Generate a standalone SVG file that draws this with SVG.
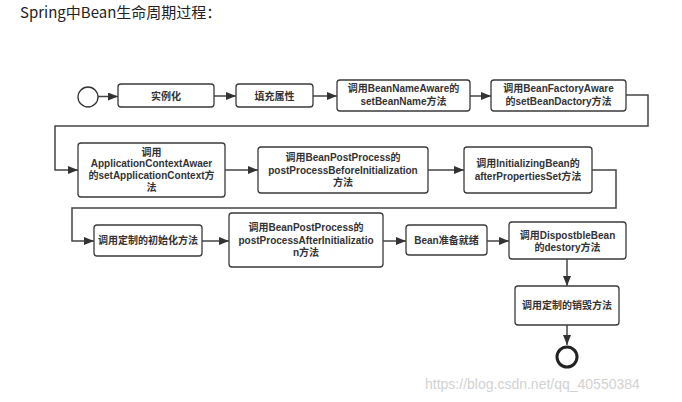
<svg xmlns="http://www.w3.org/2000/svg" width="682" height="402" viewBox="0 0 682 402">
<style>
.box{fill:#fff;stroke:#3a3a3a;stroke-width:1.3}
.t{font-family:"Liberation Sans","Noto Sans CJK SC",sans-serif;font-size:10px;font-weight:bold;fill:#333;text-anchor:middle}
.c{fill:none;stroke:#444;stroke-width:1.5}
.title{font-family:"Noto Sans CJK SC","Microsoft YaHei",sans-serif;font-size:15px;fill:#222}
.wm{font-family:"Liberation Sans",Arial,sans-serif;font-size:14px;fill:#d2d2d2}
</style>
<defs>
<marker id="ar" markerUnits="userSpaceOnUse" markerWidth="10" markerHeight="8" refX="10" refY="4" orient="auto">
<path d="M0,0 L10,4 L0,8 z" fill="#333"/>
</marker>
</defs>
<rect width="682" height="402" fill="#fff"/>
<text class="title" x="20" y="18">Spring中Bean生命周期过程：</text>

<g id="start"><circle cx="88" cy="97" r="10" fill="#fff" stroke="#333" stroke-width="1.3"/></g>

<g id="n1"><rect class="box" x="118" y="84" width="96" height="23" rx="3"/><text class="t" x="166" y="99.5">实例化</text></g>
<g id="n2"><rect class="box" x="236" y="84" width="77" height="23" rx="3"/><text class="t" x="274.5" y="99.5">填充属性</text></g>
<g id="n3"><rect class="box" x="337" y="80" width="133" height="31" rx="3"/><text class="t" x="403.5" y="92">调用BeanNameAware的</text><text class="t" x="403.5" y="105">setBeanName方法</text></g>
<g id="n4"><rect class="box" x="491" y="80" width="135" height="31" rx="3"/><text class="t" x="558.5" y="92">调用BeanFactoryAware</text><text class="t" x="558.5" y="105">的setBeanDactory方法</text></g>

<g id="n5"><rect class="box" x="78" y="143" width="147" height="54" rx="3"/><text class="t" x="151.5" y="155.5">调用</text><text class="t" x="151.5" y="167">ApplicationContextAwaer</text><text class="t" x="151.5" y="178.5">的setApplicationContext方</text><text class="t" x="151.5" y="190.5">法</text></g>
<g id="n6"><rect class="box" x="258" y="147" width="170" height="46" rx="3"/><text class="t" x="343" y="161">调用BeanPostProcess的</text><text class="t" x="343" y="173.5">postProcessBeforeInitialization</text><text class="t" x="343" y="186">方法</text></g>
<g id="n7"><rect class="box" x="464" y="147" width="128" height="46" rx="3"/><text class="t" x="528" y="166.5">调用InitializingBean的</text><text class="t" x="528" y="179.5">afterPropertiesSet方法</text></g>

<g id="n8"><rect class="box" x="94" y="225" width="108" height="31" rx="3"/><text class="t" x="148" y="244">调用定制的初始化方法</text></g>
<g id="n9"><rect class="box" x="229" y="213" width="154" height="54" rx="3"/><text class="t" x="306" y="231">调用BeanPostProcess的</text><text class="t" x="306" y="243.5">postProcessAfterInitializatio</text><text class="t" x="306" y="256">n方法</text></g>
<g id="n10"><rect class="box" x="406" y="225" width="81" height="30" rx="3"/><text class="t" x="446.5" y="243.5">Bean准备就绪</text></g>
<g id="n11"><rect class="box" x="509" y="222" width="117" height="37" rx="3"/><text class="t" x="567.5" y="238.5">调用DispostbleBean</text><text class="t" x="567.5" y="250.5">的destory方法</text></g>
<g id="n12"><rect class="box" x="515" y="286" width="104" height="39" rx="3"/><text class="t" x="567" y="309">调用定制的销毁方法</text></g>

<g id="end"><circle cx="567" cy="357" r="10" fill="#fff" stroke="#222" stroke-width="3"/></g>

<g id="connectors">
<path class="c" d="M98,96.5 L118,96.5" marker-end="url(#ar)"/>
<path class="c" d="M214,96 L236,96" marker-end="url(#ar)"/>
<path class="c" d="M313,96 L337,96" marker-end="url(#ar)"/>
<path class="c" d="M470,96 L491,96" marker-end="url(#ar)"/>
<path class="c" d="M626,95 L648,95 L648,126 L55,126 L55,170 L78,170" marker-end="url(#ar)"/>
<path class="c" d="M225,170 L258,170" marker-end="url(#ar)"/>
<path class="c" d="M428,170 L464,170" marker-end="url(#ar)"/>
<path class="c" d="M592,170 L616,170 L616,208 L72,208 L72,241 L94,241" marker-end="url(#ar)"/>
<path class="c" d="M202,241 L229,241" marker-end="url(#ar)"/>
<path class="c" d="M383,241 L406,241" marker-end="url(#ar)"/>
<path class="c" d="M487,241 L509,241" marker-end="url(#ar)"/>
<path class="c" d="M567,259 L567,286" marker-end="url(#ar)"/>
<path class="c" d="M567,325 L567,345" marker-end="url(#ar)"/>
</g>

<text class="wm" x="425" y="389">https://blog.csdn.net/qq_40550384</text>
</svg>
